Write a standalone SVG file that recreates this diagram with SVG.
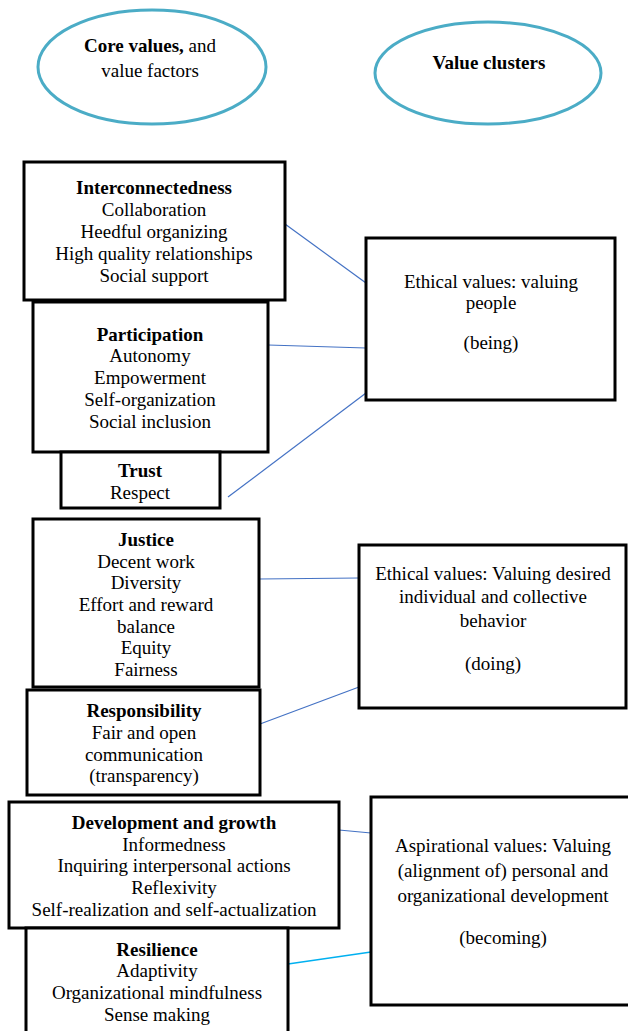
<svg xmlns="http://www.w3.org/2000/svg" width="628" height="1031" viewBox="0 0 628 1031">
<style>
text{font-family:"Liberation Serif","Times New Roman",serif;font-size:19px;fill:#000;text-anchor:middle}
.b{font-weight:bold}
.box{fill:#fff;stroke:#000;stroke-width:3}
.ell{fill:#fff;stroke:#4BACC6;stroke-width:3}
.c{stroke:#4472C4;stroke-width:1.2;fill:none}
.c2{stroke:#00B0F0;stroke-width:1.5;fill:none}
</style>
<rect width="628" height="1031" fill="#fff"/>
<g id="core-ellipse">
<ellipse class="ell" cx="152" cy="67" rx="114" ry="57"/>
<text x="150" y="52"><tspan class="b">Core values,</tspan> and</text>
<text x="150" y="77">value factors</text>
</g>
<g id="clusters-ellipse">
<ellipse class="ell" cx="488" cy="73" rx="113" ry="51"/>
<text x="489" y="69" class="b">Value clusters</text>
</g>
<g id="connectors">
<line class="c" x1="285" y1="224" x2="366" y2="283"/>
<line class="c" x1="268" y1="345" x2="366" y2="348"/>
<line class="c" x1="228" y1="497" x2="366" y2="393"/>
<line class="c" x1="259" y1="579" x2="359" y2="578"/>
<line class="c" x1="260" y1="724" x2="359" y2="687"/>
<line class="c" x1="339" y1="830" x2="371" y2="833"/>
<line class="c2" x1="288" y1="964" x2="371" y2="952"/>
</g>
<g id="interconnectedness">
<rect class="box" x="24" y="162" width="261" height="138"/>
<text x="154" y="194" class="b">Interconnectedness</text>
<text x="154" y="216">Collaboration</text>
<text x="154" y="238">Heedful organizing</text>
<text x="154" y="260">High quality relationships</text>
<text x="154" y="282">Social support</text>
</g>
<g id="participation">
<rect class="box" x="33" y="302" width="235" height="150"/>
<text x="150" y="341" class="b">Participation</text>
<text x="150" y="362">Autonomy</text>
<text x="150" y="384">Empowerment</text>
<text x="150" y="406">Self-organization</text>
<text x="150" y="428">Social inclusion</text>
</g>
<g id="trust">
<rect class="box" x="61" y="452" width="159" height="56"/>
<text x="140" y="477" class="b">Trust</text>
<text x="140" y="499">Respect</text>
</g>
<g id="ethical-being">
<rect class="box" x="366" y="238" width="249" height="162"/>
<text x="491" y="288">Ethical values: valuing</text>
<text x="491" y="309">people</text>
<text x="491" y="349">(being)</text>
</g>
<g id="justice">
<rect class="box" x="33" y="519" width="226" height="168"/>
<text x="146" y="546" class="b">Justice</text>
<text x="146" y="568">Decent work</text>
<text x="146" y="589">Diversity</text>
<text x="146" y="611">Effort and reward</text>
<text x="146" y="633">balance</text>
<text x="146" y="654">Equity</text>
<text x="146" y="676">Fairness</text>
</g>
<g id="responsibility">
<rect class="box" x="27" y="690" width="233" height="105"/>
<text x="144" y="717" class="b">Responsibility</text>
<text x="144" y="739">Fair and open</text>
<text x="144" y="761">communication</text>
<text x="144" y="782">(transparency)</text>
</g>
<g id="ethical-doing">
<rect class="box" x="359" y="545" width="267" height="163"/>
<text x="493" y="580">Ethical values: Valuing desired</text>
<text x="493" y="603">individual and collective</text>
<text x="493" y="627">behavior</text>
<text x="493" y="670">(doing)</text>
</g>
<g id="development">
<rect class="box" x="9" y="802" width="330" height="126"/>
<text x="174" y="829" class="b">Development and growth</text>
<text x="174" y="851">Informedness</text>
<text x="174" y="872">Inquiring interpersonal actions</text>
<text x="174" y="894">Reflexivity</text>
<text x="174" y="916">Self-realization and self-actualization</text>
</g>
<g id="resilience">
<rect class="box" x="26" y="928" width="262" height="110"/>
<text x="157" y="956" class="b">Resilience</text>
<text x="157" y="977">Adaptivity</text>
<text x="157" y="999">Organizational mindfulness</text>
<text x="157" y="1021">Sense making</text>
</g>
<g id="aspirational">
<rect class="box" x="371" y="797" width="262" height="208"/>
<text x="503" y="852">Aspirational values: Valuing</text>
<text x="503" y="877">(alignment of) personal and</text>
<text x="503" y="902">organizational development</text>
<text x="503" y="944">(becoming)</text>
</g>
</svg>
